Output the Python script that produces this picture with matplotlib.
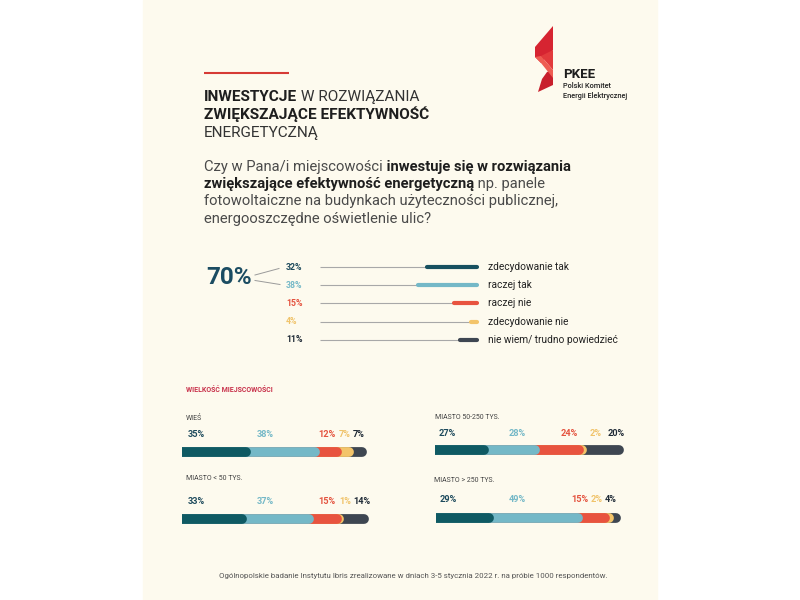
import matplotlib
matplotlib.use("Agg")
import matplotlib.pyplot as plt
from matplotlib.patches import Rectangle, Polygon

# ---------------- data ----------------
answer_labels = ["zdecydowanie tak", "raczej tak", "raczej nie",
                 "zdecydowanie nie", "nie wiem/ trudno powiedzieć"]
answer_values = [32, 38, 15, 4, 11]

size_labels = ["WIEŚ", "MIASTO < 50 TYS.", "MIASTO 50-250 TYS.", "MIASTO > 250 TYS."]
wies = [35, 38, 12, 7, 7]
miasto_50 = [33, 37, 15, 1, 14]
miasto_50_250 = [27, 28, 24, 2, 20]
miasto_250 = [29, 49, 15, 2, 4]
size_values = [wies, miasto_50, miasto_50_250, miasto_250]

# ---------------- style ----------------
FONT = "Roboto"
plt.rcParams["font.family"] = [FONT, "DejaVu Sans"]
CREAM = "#fdfaee"
bar_colors = ["#0f5a63", "#74b8c7", "#e8533f", "#f3c46a", "#3e4651"]
top_bar_colors = ["#17505f", "#74b8c7", "#e8533f", "#f3c46a", "#3e4651"]
pct_colors = ["#1d4a5c", "#74b8c7", "#e4533f", "#f0c36a", "#1f2a36"]

W, H = 800, 600
fig = plt.figure(figsize=(8, 6), dpi=100)
fig.patch.set_facecolor("white")
bg = fig.add_axes([0, 0, 1, 1])
bg.set_xlim(0, W)
bg.set_ylim(H, 0)
bg.axis("off")
bg.add_patch(Rectangle((143, 0), 514, 600, color=CREAM, zorder=0))

renderer = fig.canvas.get_renderer()


def px_axes(x, y, w, h):
    return fig.add_axes([x / W, 1 - (y + h) / H, w / W, h / H])


def runs(x, y, parts, size):
    for text, weight, color in parts:
        t = bg.text(x, y, text, fontsize=size, fontweight=weight, color=color,
                    ha="left", va="baseline", zorder=5)
        bb = t.get_window_extent(renderer=renderer)
        x += bb.width


# ---------------- title ----------------
bg.plot([204, 289], [73, 73], color="#d63a35", lw=1.5, solid_capstyle="butt")
runs(204, 101, [("INWESTYCJE", "bold", "#1e1e1e"), (" W ROZWIĄZANIA", "normal", "#333333")], 11.1)
runs(204, 119.5, [("ZWIĘKSZAJĄCE EFEKTYWNOŚĆ", "bold", "#1e1e1e")], 11.1)
runs(204, 137.5, [("ENERGETYCZNĄ", "normal", "#333333")], 11.1)

# ---------------- logo ----------------
bg.add_patch(Polygon([(553, 26), (553, 50), (541, 63), (535, 57), (535, 47)],
                     closed=True, color="#d62431", lw=0, zorder=3))
bg.add_patch(Polygon([(535, 57), (541, 56), (553, 70), (553, 78), (541, 63)],
                     closed=True, color="#ee5c52", lw=0, zorder=4))
bg.add_patch(Polygon([(541, 56), (553, 50), (553, 70)],
                     closed=True, color="#e23a3c", lw=0, zorder=3))
bg.add_patch(Polygon([(553, 70), (553, 85), (538, 92), (542, 79), (547, 72)],
                     closed=True, color="#c81f2c", lw=0, zorder=3))
bg.text(563, 78, "PKEE", fontsize=9.5, fontweight="bold", color="#1e1e1e", va="baseline")
bg.text(563, 88, "Polski Komitet", fontsize=5.3, fontweight="medium", color="#222222", va="baseline")
bg.text(563, 98, "Energii Elektrycznej", fontsize=5.3, fontweight="medium", color="#222222", va="baseline")

# ---------------- question ----------------
QC = "#4a4a4a"
QB = "#1e1e1e"
qs = 10.6
runs(204, 170.5, [("Czy w Pana/i miejscowości", "normal", QC),
                  (" inwestuje się w rozwiązania", "bold", QB)], qs)
runs(204, 188, [("zwiększające efektywność energetyczną", "bold", QB),
                (" np. panele", "normal", QC)], qs)
runs(204, 205.5, [("fotowoltaiczne na budynkach użyteczności publicznej,", "normal", QC)], qs)
runs(204, 223, [("energooszczędne oświetlenie ulic?", "normal", QC)], qs)

# ---------------- top chart ----------------
row_y0, row_dy = 267, 18.2
s_top = 1.55
ax_top = px_axes(322, row_y0 - 9, 100 * s_top, row_dy * 4 + 18)
ax_top.set_xlim(0, 100)
ax_top.set_ylim(4.5, -0.5)
ax_top.axis("off")
for i, (lab, v) in enumerate(zip(answer_labels, answer_values)):
    ax_top.plot([-1.2, 100], [i, i], color="#a8a8a8", lw=0.8, solid_capstyle="butt",
                clip_on=False, zorder=1)
    ax_top.plot([100 - v, 100], [i, i], color=top_bar_colors[i], lw=3.0,
                solid_capstyle="round", clip_on=False, zorder=2)
    y = row_y0 + row_dy * i
    bg.text(286, y, f"{v}%", fontsize=6.3, fontweight="bold", color=pct_colors[i],
            ha="left", va="center")
    bg.text(488, y, lab, fontsize=7.3, color="#222222", ha="left", va="center")

bg.text(229.5, 277.5, f"{answer_values[0] + answer_values[1]}%", fontsize=17.5,
        fontweight="bold", color="#1b4c62", ha="center", va="center")
bg.plot([255, 279], [275, 268.5], color="#9a9a9a", lw=0.7)
bg.plot([255, 280], [280.5, 284.5], color="#9a9a9a", lw=0.7)

# ---------------- size section ----------------
bg.text(186, 390, "WIELKOŚĆ MIEJSCOWOŚCI", fontsize=5, fontweight="bold",
        color="#c8304a", ha="left", va="center")

layout = [
    # label_x, label_y, pct_y, bar_x0, bar_y, pct label x positions
    (186, 418, 434.5, 182, 452, [188, 257, 318, 339, 353]),
    (186, 478, 501, 182, 519, [188, 257, 318, 339, 353]),
    (435, 417.5, 433.5, 435, 450, [439, 509, 561, 590, 608]),
    (434, 480, 499.5, 436, 517.5, [440, 509, 571, 591, 605]),
]
s_low = 1.82
bar_lw = 9.8 * 0.72
for lab, vals, (lx, ly, py, x0, by, pxs) in zip(size_labels, size_values, layout):
    bg.text(lx, ly, lab, fontsize=5, color="#444444", ha="left", va="center")
    ax = px_axes(x0, by - 8, 120 * s_low, 16)
    ax.set_xlim(0, 120)
    ax.set_ylim(-1, 1)
    ax.axis("off")
    cum = []
    c = 0
    for v in vals:
        c += v
        cum.append(c)
    for i in range(len(vals) - 1, -1, -1):
        ax.plot([0, cum[i]], [0, 0], color=bar_colors[i], lw=bar_lw,
                solid_capstyle="round", clip_on=True, zorder=2 + (len(vals) - i))
    for i, v in enumerate(vals):
        bg.text(pxs[i], py, f"{v}%", fontsize=6.6, fontweight="bold",
                color=pct_colors[i], ha="left", va="center")

# ---------------- footer ----------------
bg.text(413.5, 576, "Ogólnopolskie badanie Instytutu Ibris zrealizowane w dniach 3-5 stycznia "
        "2022 r. na próbie 1000 respondentów.", fontsize=5.7, color="#555555",
        ha="center", va="center")

fig.savefig("out.png", dpi=100, facecolor="white")
